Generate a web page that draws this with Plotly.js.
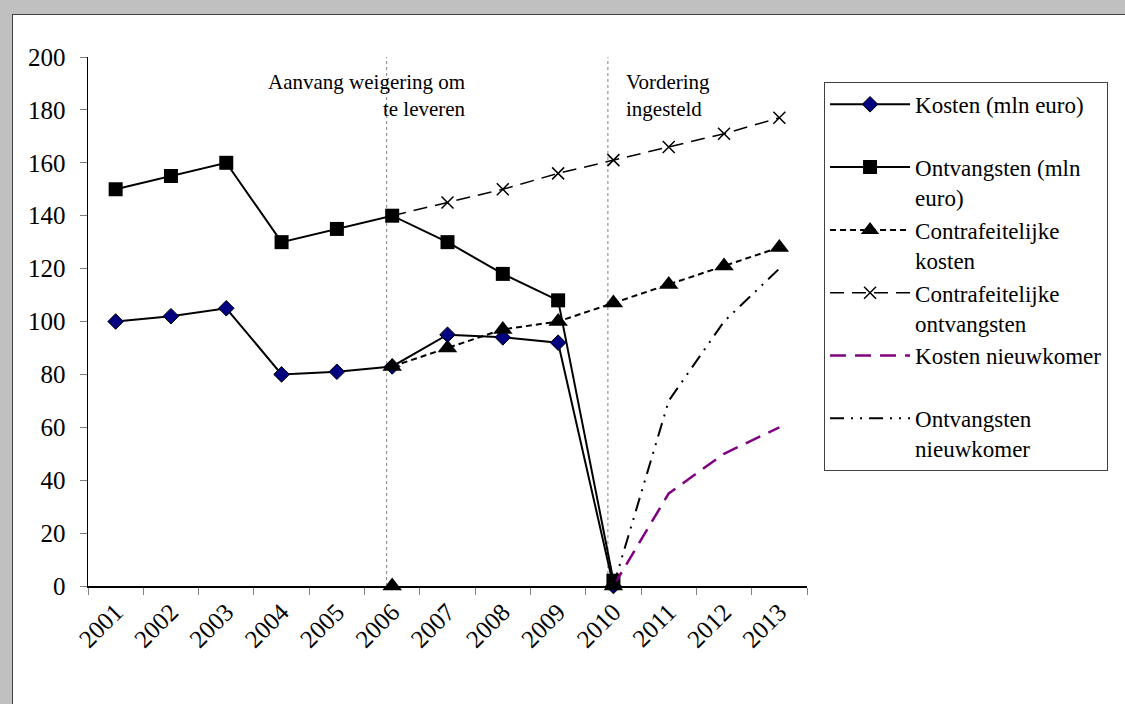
<!DOCTYPE html>
<html>
<head>
<meta charset="utf-8">
<script src="https://cdn.plot.ly/plotly-3.0.1.min.js"></script>
<style>
  html, body { margin: 0; padding: 0; background: #c0c0c0; width: 1125px; height: 704px; overflow: hidden; }
  #frame { position: absolute; left: 12px; top: 14px; width: 1113px; height: 690px;
           border-left: 1px solid #404040; border-top: 1px solid #404040; background: #fff; }
  #chart { width: 1113px; height: 690px; }
</style>
</head>
<body>
<div id="frame"><div id="chart"></div></div>
<script>
const years = ['2001','2002','2003','2004','2005','2006','2007','2008','2009','2010','2011','2012','2013'];
const kosten = [100, 102, 105, 80, 81, 83, 95, 94, 92, 0, null, null, null];
const ontvangsten = [150, 155, 160, 130, 135, 140, 130, 118, 108, 2, null, null, null];
const contraKosten = [null, null, null, null, null, 83, 90, 97, 100, 107, 114, 121, 128];
const contraOntvangsten = [null, null, null, null, null, 140, 145, 150, 156, 161, 166, 171, 177];
const kostenNieuwkomer = [null, null, null, null, null, null, null, null, null, 0, 35, 50, 60];
const ontvangstenNieuwkomer = [null, null, null, null, null, null, null, null, null, 0, 70, 100, 120];
const markerYears = ['2006', '2010'];
const markerValues = [0, 0];
const eventYears = ['2006', '2010'];
const eventLabels = ['Aanvang weigering om<br>te leveren', 'Vordering<br>ingesteld'];
const yTicks = [0, 20, 40, 60, 80, 100, 120, 140, 160, 180, 200];

const FONT = '"Liberation Serif", "Times New Roman", serif';
const traces = [
  { x: years, y: kosten, name: 'Kosten (mln euro)<br> ', mode: 'lines+markers', cliponaxis: false,
    line: { color: '#000', width: 2 },
    marker: { symbol: 'diamond', size: 12, color: '#000080', line: { color: '#000', width: 1 } } },
  { x: years, y: ontvangsten, name: 'Ontvangsten (mln<br>euro)', mode: 'lines+markers', cliponaxis: false,
    line: { color: '#000', width: 2 },
    marker: { symbol: 'square', size: 14, color: '#000' } },
  { x: years, y: contraKosten, name: 'Contrafeitelijke<br>kosten', mode: 'lines+markers', cliponaxis: false,
    line: { color: '#000', width: 2, dash: '6px,4px' },
    marker: { symbol: 'triangle-up', size: 17, color: '#000' } },
  { x: years, y: contraOntvangsten, name: 'Contrafeitelijke<br>ontvangsten', mode: 'lines+markers', cliponaxis: false,
    line: { color: '#000', width: 1.5, dash: '14px,8px' },
    marker: { symbol: 'x-thin-open', size: 12, color: '#000', line: { color: '#000', width: 1.5 } } },
  { x: years, y: kostenNieuwkomer, name: 'Kosten nieuwkomer<br> ', mode: 'lines',
    line: { color: '#800080', width: 2.5, dash: '16px,9px' } },
  { x: years, y: ontvangstenNieuwkomer, name: 'Ontvangsten<br>nieuwkomer', mode: 'lines',
    line: { color: '#000', width: 2, dash: '14px,7px,2px,7px,2px,7px' } },
  { x: markerYears, y: markerValues, mode: 'markers', showlegend: false, hoverinfo: 'skip', cliponaxis: false,
    marker: { symbol: 'triangle-up', size: 17, color: '#000' } }
];

const shapes = eventYears.map(yr => ({
  type: 'line', xref: 'x', yref: 'y',
  x0: years.indexOf(yr) - 0.1, x1: years.indexOf(yr) - 0.1, y0: 0, y1: 200,
  line: { color: '#808080', width: 1, dash: 'dot' }, layer: 'below'
}));

const annotations = [
  { xref: 'paper', yref: 'paper', x: 0.528, y: 0.928, xanchor: 'right', yanchor: 'middle',
    align: 'right', text: eventLabels[0], showarrow: false, font: { family: FONT, size: 21, color: '#000' } },
  { xref: 'paper', yref: 'paper', x: 0.746, y: 0.928, xanchor: 'left', yanchor: 'middle',
    align: 'left', text: eventLabels[1], showarrow: false, font: { family: FONT, size: 21, color: '#000' } }
];

const layout = {
  width: 1113, height: 690,
  margin: { l: 75, r: 319, t: 42, b: 119 },
  paper_bgcolor: '#fff', plot_bgcolor: '#fff',
  font: { family: FONT, size: 22, color: '#000' },
  showlegend: true,
  legend: {
    x: 1.0237, y: 0.953, xanchor: 'left', yanchor: 'top',
    bordercolor: '#404040', borderwidth: 1, bgcolor: '#fff',
    font: { family: FONT, size: 23, color: '#000' },
    valign: 'top', itemwidth: 80, tracegroupgap: 0
  },
  xaxis: {
    type: 'category', categoryorder: 'array', categoryarray: years,
    range: [-0.5, 12.5], tickson: 'boundaries', ticks: 'outside', ticklen: 7, tickcolor: '#808080',
    tickangle: -45, showline: true, linecolor: '#000', linewidth: 1.5,
    showgrid: false, zeroline: false, tickfont: { family: FONT, size: 25, color: '#000' }
  },
  yaxis: {
    range: [0, 200], tickvals: yTicks, ticks: 'outside', ticklen: 7, tickcolor: '#808080',
    showline: true, linecolor: '#000', linewidth: 1.5, showgrid: false, zeroline: false,
    ticklabelstandoff: 9, tickfont: { family: FONT, size: 25, color: '#000' }
  },
  shapes: shapes,
  annotations: annotations
};

Plotly.newPlot('chart', traces, layout, { displayModeBar: false, staticPlot: true });
</script>
</body>
</html>
